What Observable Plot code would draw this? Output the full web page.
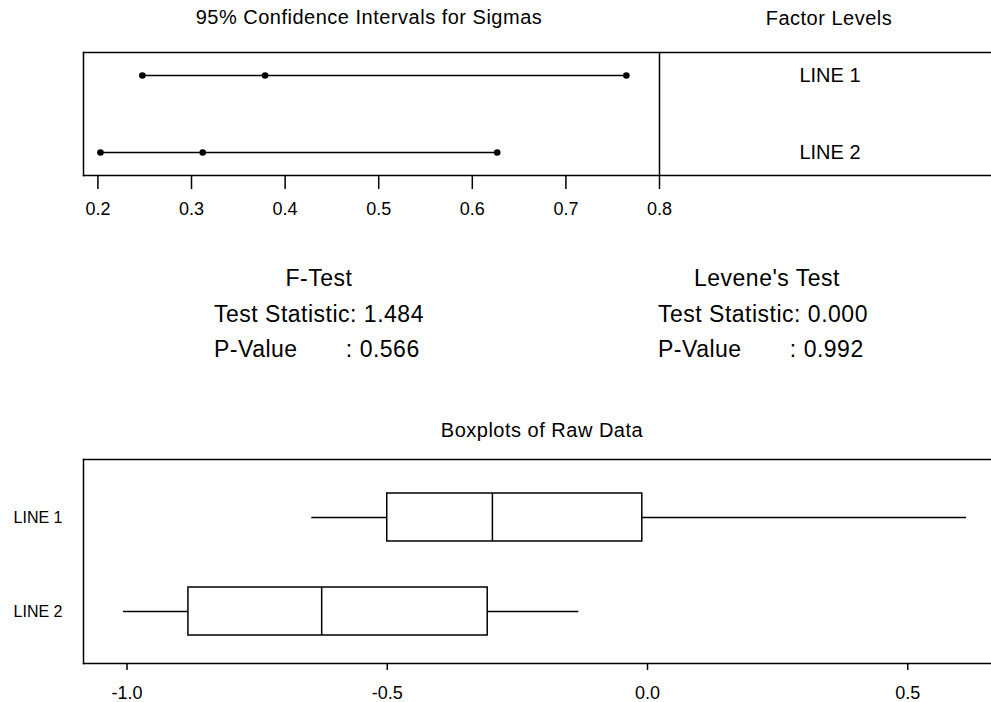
<!DOCTYPE html>
<html><head><meta charset="utf-8">
<script src="https://cdn.jsdelivr.net/npm/d3@7"></script>
<script src="https://cdn.jsdelivr.net/npm/@observablehq/plot@0.6"></script>
<style>
html,body{margin:0;padding:0;background:#fff;}
#chart{position:relative;width:991px;height:702px;overflow:hidden;background:#fff;font-family:"Liberation Sans",Arial,sans-serif;color:#000;}
.lbl{position:absolute;white-space:pre;line-height:1;color:#000;}
.c{transform:translate(-50%,-50%);}
.l{transform:translate(0,-50%);}
.panel{position:absolute;}
.panel svg{overflow:visible;max-width:none !important;}
.panel svg [aria-label$="tick"]{stroke-width:1.5;}
.panel svg [aria-label="y-axis tick label"]{font-size:16px;}
</style></head><body><div id="chart"></div>
<script>
// ---- data ----
const levels = ["LINE 1", "LINE 2"];
const sigmaLower = [0.2475, 0.2027];
const sigmaEstimate = [0.3786, 0.3120];
const sigmaUpper = [0.7646, 0.6266];
const sigmaTicks = [0.2, 0.3, 0.4, 0.5, 0.6, 0.7, 0.8];

const rawMin = [-0.645, -1.007];
const rawQ1 = [-0.500, -0.882];
const rawMedian = [-0.298, -0.626];
const rawQ3 = [-0.010, -0.307];
const rawMax = [0.613, -0.132];
const rawTicks = [-1.0, -0.5, 0.0, 0.5];

const testNames = ["F-Test", "Levene's Test"];
const testStatistics = ["1.484", "0.000"];
const pValues = ["0.566", "0.992"];

const ciTitle = "95% Confidence Intervals for Sigmas";
const factorTitle = "Factor Levels";
const boxTitle = "Boxplots of Raw Data";

// ---- tables ----
const ciRows = levels.map((level, i) => ({level, lower: sigmaLower[i], est: sigmaEstimate[i], upper: sigmaUpper[i]}));
const boxRows = levels.map((level, i) => ({level, min: rawMin[i], q1: rawQ1[i], med: rawMedian[i], q3: rawQ3[i], max: rawMax[i]}));

const chart = document.getElementById("chart");
const FONT = '"Liberation Sans", Arial, sans-serif';

function addText(text, x, y, size, spacing, cls) {
  const d = document.createElement("div");
  d.className = "lbl " + cls;
  d.textContent = text;
  d.style.left = x + "px";
  d.style.top = y + "px";
  d.style.fontSize = size + "px";
  d.style.letterSpacing = spacing + "px";
  chart.appendChild(d);
}
function addPanel(svg, left, top, w) {
  const d = document.createElement("div");
  d.className = "panel";
  d.style.left = left + "px";
  d.style.top = top + "px";
  d.style.width = w + "px";
  d.appendChild(svg);
  chart.appendChild(d);
}
// open frame: top, left and bottom sides only (the right side lies off the page)
const openFrame = () => ["top", "left", "bottom"].map(anchor => Plot.frame({anchor, stroke: "#000", strokeWidth: 1.5}));

// ---- titles ----
addText(ciTitle, 369, 17, 20, 0.5, "c");
addText(factorTitle, 829, 18, 20, 0.5, "c");
addText(boxTitle, 542, 430, 20, 0.5, "c");

// ---- test results ----
const blocks = [{cx: 319, left: 214}, {cx: 767, left: 658}];
testNames.forEach((name, i) => {
  addText(name, blocks[i].cx, 278, 23, 0.5, "c");
  addText("Test Statistic: " + testStatistics[i], blocks[i].left, 314, 23, 0.5, "l");
  addText("P-Value" + " ".repeat(7) + ": " + pValues[i], blocks[i].left, 349, 23, 0.5, "l");
});

// ---- CI plot ----
const yCI = {type: "point", domain: levels, padding: 0.2885, axis: null};
const ci = Plot.plot({
  width: 1010, height: 190,
  marginTop: 12, marginBottom: 55, marginLeft: 83, marginRight: 0,
  style: {fontFamily: FONT, fontSize: "18px", color: "#000", background: "transparent"},
  x: {domain: [0.1846, 0.8], range: [83, 659], ticks: sigmaTicks, tickFormat: d => d.toFixed(1), tickSize: 14, tickPadding: 13, label: null},
  y: yCI,
  marks: [
    ...openFrame(),
    Plot.ruleX([0.8], {stroke: "#000", strokeWidth: 1.5}),
    Plot.ruleY(ciRows, {y: "level", x1: "lower", x2: "upper", stroke: "#000", strokeWidth: 1.5}),
    Plot.dot(ciRows, {x: "lower", y: "level", r: 3.3, fill: "#000"}),
    Plot.dot(ciRows, {x: "est", y: "level", r: 3.3, fill: "#000"}),
    Plot.dot(ciRows, {x: "upper", y: "level", r: 3.3, fill: "#000"})
  ]
});
addPanel(ci, 0, 40, 1010);

const factor = Plot.plot({
  width: 341, height: 190,
  marginTop: 12, marginBottom: 55, marginLeft: 0, marginRight: 0,
  style: {fontFamily: FONT, color: "#000", background: "transparent"},
  y: yCI,
  marks: [
    Plot.text(levels, {y: d => d, frameAnchor: "middle", fontSize: 20, fill: "#000", style: "letter-spacing:0.5px"})
  ]
});
addPanel(factor, 659, 40, 341);

// ---- Boxplot ----
const box = Plot.plot({
  width: 1010, height: 262,
  marginTop: 19, marginBottom: 39, marginLeft: 83, marginRight: 0,
  style: {fontFamily: FONT, fontSize: "18px", color: "#000", background: "transparent"},
  x: {domain: [-1.0836, 0.6974], ticks: rawTicks, tickFormat: d => d.toFixed(1), tickSize: 7, tickPadding: 16, label: null},
  y: {type: "band", domain: levels, paddingInner: 0.49, paddingOuter: 0.319, align: 0.55, tickSize: 0, tickPadding: 21, label: null},
  marks: [
    ...openFrame(),
    Plot.ruleY(boxRows, {y: "level", x1: "min", x2: "q1", stroke: "#000", strokeWidth: 1.5}),
    Plot.ruleY(boxRows, {y: "level", x1: "q3", x2: "max", stroke: "#000", strokeWidth: 1.5}),
    Plot.barX(boxRows, {y: "level", x1: "q1", x2: "q3", fill: "#fff", stroke: "#000", strokeWidth: 1.5}),
    Plot.tickX(boxRows, {y: "level", x: "med", stroke: "#000", strokeWidth: 1.2})
  ]
});
addPanel(box, 0, 440, 1010);
</script></body></html>
